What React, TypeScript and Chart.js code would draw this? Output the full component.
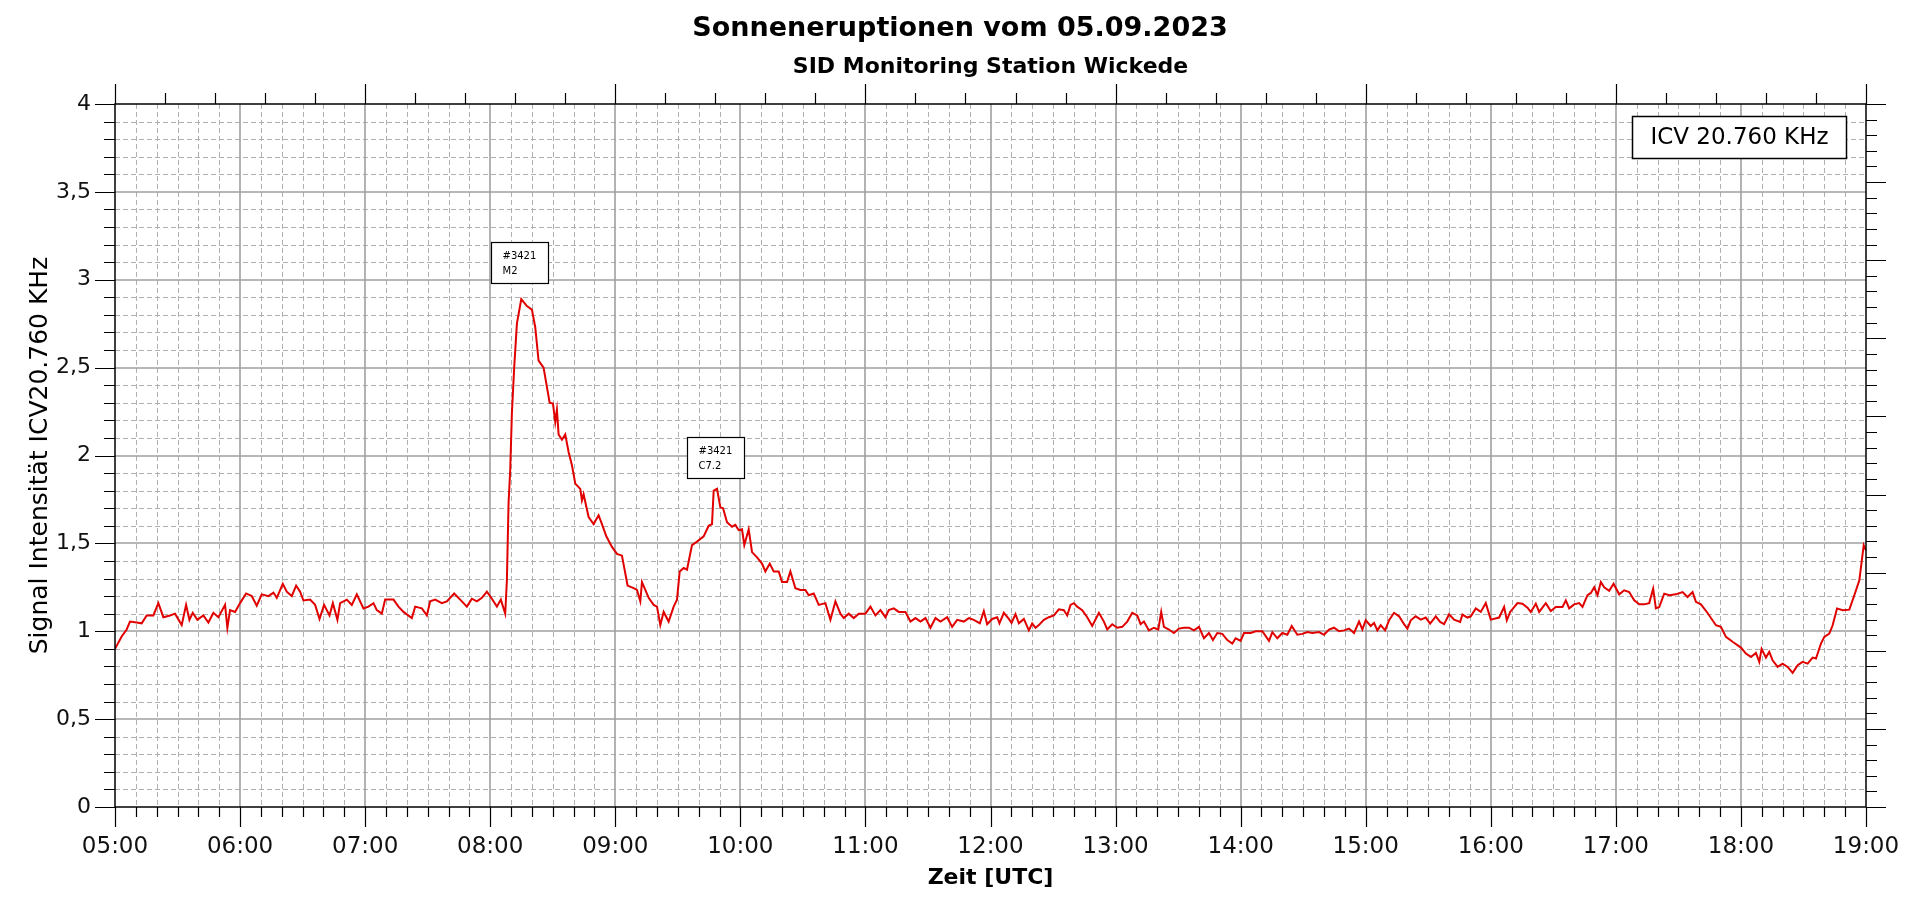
import { useEffect, useRef } from 'react';
import { Chart, registerables } from 'chart.js';

Chart.register(...registerables);

const FONT = "'DejaVu Sans', 'Noto Sans', sans-serif";

const TITLE = 'Sonneneruptionen vom 05.09.2023';
const SUBTITLE = 'SID Monitoring Station Wickede';
const X_TITLE = 'Zeit [UTC]';
const Y_TITLE = 'Signal Intensität ICV20.760 KHz';
const STATION_LABEL = 'ICV 20.760 KHz';

const HOUR_LABELS = [
  '05:00', '06:00', '07:00', '08:00', '09:00', '10:00', '11:00', '12:00',
  '13:00', '14:00', '15:00', '16:00', '17:00', '18:00', '19:00',
];

// [minutes since 05:00 UTC, signal]
const SEG_MORNING: [number, number][] = [
  [0, 0.9], [3.2, 0.97], [5.6, 1.01], [7.2, 1.055], [10.4, 1.05], [12.8, 1.045], [15.2, 1.09], [18.4, 1.09],
  [20.8, 1.16], [23.2, 1.08], [26.4, 1.09], [28.8, 1.1], [32, 1.035], [34.1, 1.15], [35.7, 1.065], [37.3, 1.105],
  [39.5, 1.065], [42.4, 1.09], [44.8, 1.05], [47.2, 1.105], [49.6, 1.08], [52.8, 1.15], [53.9, 1.02], [55.2, 1.12],
  [57.6, 1.11], [60, 1.16], [62.9, 1.215], [65.6, 1.2], [68, 1.145], [70.4, 1.21], [73.6, 1.2], [76, 1.22],
  [77.6, 1.19], [80.5, 1.27], [82.4, 1.225], [84.8, 1.2], [86.9, 1.26], [88.8, 1.225], [90.4, 1.175], [93.6, 1.18],
  [96, 1.15], [98.1, 1.07], [100.3, 1.15], [102.9, 1.09], [104.5, 1.16], [106.7, 1.065], [108, 1.16], [111.2, 1.18],
  [113.6, 1.15], [116, 1.21], [119.2, 1.13], [121.6, 1.14], [124, 1.16], [125.6, 1.12], [128, 1.1], [129.6, 1.18],
  [133.6, 1.18], [136, 1.14], [138.4, 1.11], [142.4, 1.075], [144, 1.14], [147.2, 1.13], [149.6, 1.09], [151.2, 1.17],
  [153.6, 1.18], [156.8, 1.16], [159.2, 1.17], [162.7, 1.215], [165.6, 1.18], [168.8, 1.14], [171.2, 1.185], [173.6, 1.17],
  [176, 1.19], [178.4, 1.225], [180.8, 1.185], [183.2, 1.14], [185.1, 1.18], [187.2, 1.1], [188, 1.29], [188.8, 1.73],
  [189.6, 1.92], [190.4, 2.24], [191.5, 2.5], [192.8, 2.75], [194.9, 2.89], [197.6, 2.85], [200, 2.83], [201.6, 2.73],
  [203.2, 2.54], [205.6, 2.5], [208.5, 2.3],
];

const SEG_DECAY: [number, number][] = [
  [210.1, 2.295], [211.2, 2.19], [212, 2.26], [212.8, 2.12], [214.4, 2.09], [216, 2.12], [217.6, 2.02], [219.2, 1.945],
  [220.8, 1.84], [223.2, 1.81], [224, 1.745], [224.8, 1.78], [227.2, 1.65], [229.6, 1.61], [232, 1.66], [233.6, 1.61],
  [235.7, 1.54], [238.4, 1.48], [240.8, 1.44], [243.2, 1.43], [245.9, 1.26], [248.8, 1.245], [250.4, 1.235], [252, 1.17],
  [252.8, 1.28], [254.4, 1.235], [256, 1.19], [258.4, 1.15], [260, 1.14], [261.6, 1.035], [263.2, 1.11], [265.6, 1.055],
  [268, 1.14], [269.6, 1.18], [270.9, 1.34], [272.8, 1.36], [274.4, 1.35], [276.8, 1.49], [279.2, 1.51], [282.4, 1.54],
  [284.8, 1.6], [286.4, 1.61], [287.2, 1.8], [288.8, 1.81], [290.4, 1.705], [291.7, 1.7], [293.6, 1.62], [296, 1.595],
  [297.6, 1.605], [299.2, 1.575], [300.8, 1.58], [301.9, 1.49], [304, 1.58], [305.6, 1.45], [308, 1.42], [310.4, 1.385],
  [312, 1.34], [314.1, 1.385], [316, 1.34], [318.4, 1.34], [320, 1.28], [322.4, 1.28], [324, 1.34], [326.4, 1.245],
  [328.8, 1.235], [331.2, 1.235], [332.8, 1.205], [335.2, 1.215], [337.6, 1.15], [340.8, 1.16], [343.2, 1.065], [345.6, 1.17],
  [348, 1.1], [349.6, 1.075], [352, 1.1], [354.4, 1.075], [356.8, 1.1], [360, 1.1], [362.4, 1.14], [364.8, 1.09],
  [367.2, 1.12], [369.6, 1.08], [371.2, 1.12], [373.6, 1.13], [376, 1.11], [379.2, 1.11], [381.6, 1.055], [384, 1.075],
  [386.4, 1.055], [388.8, 1.075], [391.2, 1.02], [393.6, 1.075], [396, 1.055], [399.2, 1.08], [401.6, 1.025], [404, 1.065],
  [407.2, 1.055], [409.6, 1.075], [412, 1.065], [414.9, 1.045],
];

const SEG_MIDDAY: [number, number][] = [
  [416.8, 1.115], [418.4, 1.04], [420.8, 1.07], [423.2, 1.08], [424.3, 1.045], [426.4, 1.105], [428.8, 1.07], [430.1, 1.047],
  [432, 1.097], [433.6, 1.045], [436, 1.07], [438.4, 1.005], [440, 1.045], [441.6, 1.02], [443.2, 1.035], [445.6, 1.065],
  [448, 1.08], [450.4, 1.09], [452.8, 1.125], [455.2, 1.12], [456.8, 1.09], [458.4, 1.15], [460, 1.16], [461.6, 1.14],
  [464, 1.12], [466.4, 1.08], [468.8, 1.03], [472, 1.105], [474.4, 1.055], [476, 1.01], [478.4, 1.04], [480.8, 1.02],
  [483.2, 1.025], [485.6, 1.055], [488, 1.105], [490.4, 1.09], [492, 1.04], [493.6, 1.055], [496, 1.005], [498.4, 1.02],
  [500.5, 1.01], [501.9, 1.11], [503.2, 1.025], [505.6, 1.01], [508, 0.99], [510.4, 1.015], [512.8, 1.02], [515.2, 1.02],
  [517.6, 1.005], [520, 1.025], [522.4, 0.96], [524.8, 0.99], [526.7, 0.95], [528.8, 0.99], [531.2, 0.985], [533.6, 0.95],
  [536, 0.93], [537.6, 0.96], [540, 0.945], [541.6, 0.99], [544.8, 0.99], [547.2, 1.0], [550.4, 1.0], [553.6, 0.945],
  [555.2, 0.995], [557.6, 0.96], [560, 0.99], [562.4, 0.98], [564.5, 1.03], [567.2, 0.98], [569.6, 0.985], [572, 0.995],
  [574.4, 0.99], [577.6, 0.995], [580, 0.98], [582.4, 1.01], [584.8, 1.02], [587.2, 1.0], [589.6, 1.005], [592, 1.015],
  [594.4, 0.99], [596.8, 1.055], [598.4, 1.01], [600, 1.0625], [602.4, 1.03], [604, 1.047], [605.6, 1.005], [607.2, 1.035],
  [609.3, 1.005], [611.2, 1.0625], [613.6, 1.105], [616, 1.085], [618.4, 1.04], [620, 1.015], [621.6, 1.0625], [624, 1.085],
  [626.4, 1.066], [628.8, 1.078],
];

const SEG_EVENING: [number, number][] = [
  [630.9, 1.044], [633.6, 1.085], [635.7, 1.053], [637.6, 1.04], [640, 1.097], [642.4, 1.066], [645.3, 1.053], [646.4, 1.095],
  [648.8, 1.078], [650.4, 1.085], [652.8, 1.13], [655.2, 1.11], [657.6, 1.16], [660, 1.066], [664, 1.078], [666.4, 1.138],
  [667.7, 1.0625], [669.3, 1.11], [672.8, 1.16], [675.2, 1.157], [677.6, 1.134], [679.2, 1.11], [681.6, 1.157], [683.2, 1.11],
  [686.4, 1.16], [688.8, 1.115], [691.2, 1.138], [694.4, 1.138], [696, 1.176], [697.6, 1.13], [700, 1.153], [702.4, 1.16],
  [704, 1.138], [706.4, 1.205], [708, 1.218], [709.6, 1.25], [711.2, 1.205], [712.8, 1.28], [714.4, 1.25], [716.8, 1.23],
  [718.9, 1.27], [721.6, 1.21], [724, 1.233], [726.4, 1.223], [728.8, 1.176], [731.2, 1.153], [733.6, 1.153], [736, 1.16],
  [737.9, 1.242], [739.2, 1.13], [740.8, 1.138], [743.2, 1.214], [745.6, 1.205], [748.8, 1.21], [752, 1.223], [754.4, 1.195],
  [756.8, 1.223], [758.4, 1.167], [760.8, 1.153], [764, 1.104], [768, 1.034], [770.4, 1.025], [772.8, 0.968], [776, 0.94],
  [780, 0.907], [782.4, 0.873], [784.8, 0.854], [787.2, 0.877], [788.8, 0.826], [789.9, 0.9], [792, 0.85], [793.6, 0.883],
  [795.2, 0.835], [797.6, 0.797], [800, 0.816], [802.4, 0.797], [804.8, 0.763], [807.2, 0.807], [809.6, 0.826], [812, 0.816],
  [814.4, 0.85], [816, 0.845], [818.4, 0.93], [820, 0.968], [822.4, 0.987], [824, 1.034], [826.1, 1.13], [828.8, 1.12],
  [832, 1.123], [834.4, 1.205], [836.8, 1.29], [838.9, 1.49], [840, 1.46],
];

// flare annotations: box centre time (min since 05:00), box top (signal units)
const FLARE_TIME = [194.1, 288.3];
const FLARE_TOP = [3.215, 2.105];
const FLARE_REGION = ['#3421', '#3421'];
const FLARE_CLASS = ['M2', 'C7.2'];

const SERIES = [...SEG_MORNING, ...SEG_DECAY, ...SEG_MIDDAY, ...SEG_EVENING];

const sidPlugin = {
  id: 'sidFrame',
  beforeDatasetsDraw(chart: any) {
    const { ctx, chartArea: a } = chart;
    const xs = chart.scales.x;
    const ys = chart.scales.y;
    ctx.save();
    // minor dashed grid
    ctx.lineWidth = 1;
    ctx.strokeStyle = '#b0b0b0';
    ctx.setLineDash([5, 3]);
    ctx.beginPath();
    for (let m = 10; m < 840; m += 10) {
      if (m % 60 === 0) continue;
      const px = Math.round(xs.getPixelForValue(m)) + 0.5;
      ctx.moveTo(px, a.top);
      ctx.lineTo(px, a.bottom);
    }
    for (let i = 1; i < 40; i++) {
      if (i % 5 === 0) continue;
      const py = Math.round(ys.getPixelForValue(i / 10)) + 0.5;
      ctx.moveTo(a.left, py);
      ctx.lineTo(a.right, py);
    }
    ctx.stroke();
    // major solid grid
    ctx.setLineDash([]);
    ctx.strokeStyle = '#a0a0a0';
    ctx.lineWidth = 1.6;
    ctx.beginPath();
    for (let m = 60; m < 840; m += 60) {
      const px = Math.round(xs.getPixelForValue(m));
      ctx.moveTo(px, a.top);
      ctx.lineTo(px, a.bottom);
    }
    for (let i = 1; i < 8; i++) {
      const py = Math.round(ys.getPixelForValue(i * 0.5));
      ctx.moveTo(a.left, py);
      ctx.lineTo(a.right, py);
    }
    ctx.stroke();
    ctx.restore();
  },
  afterDatasetsDraw(chart: any) {
    const { ctx, chartArea: a } = chart;
    const xs = chart.scales.x;
    const ys = chart.scales.y;
    const x2 = chart.scales.x2;
    const y2 = chart.scales.y2;
    ctx.save();
    ctx.setLineDash([]);
    ctx.strokeStyle = '#000';
    ctx.lineWidth = 1.2;
    ctx.beginPath();
    // bottom ticks
    for (let m = 0; m <= 840; m += 10) {
      const px = Math.round(xs.getPixelForValue(m)) + 0.5;
      const len = m % 60 === 0 ? 20 : 10;
      ctx.moveTo(px, a.bottom);
      ctx.lineTo(px, a.bottom + len);
    }
    // top ticks
    for (let m = 0; m <= 840; m += 24) {
      const px = Math.round(x2.getPixelForValue(m)) + 0.5;
      const len = m % 120 === 0 ? 20 : 11;
      ctx.moveTo(px, a.top);
      ctx.lineTo(px, a.top - len);
    }
    // left ticks
    for (let i = 0; i <= 40; i++) {
      const py = Math.round(ys.getPixelForValue(i / 10)) + 0.5;
      const len = i % 5 === 0 ? 20 : 11;
      ctx.moveTo(a.left, py);
      ctx.lineTo(a.left - len, py);
    }
    // right ticks
    for (let i = 0; i <= 45; i++) {
      const py = Math.round(y2.getPixelForValue(i / 5)) + 0.5;
      const len = i % 5 === 0 ? 20 : 11;
      ctx.moveTo(a.right, py);
      ctx.lineTo(a.right + len, py);
    }
    ctx.stroke();
    // frame
    ctx.lineWidth = 1.5;
    ctx.strokeRect(a.left, a.top, a.right - a.left, a.bottom - a.top);

    // flare boxes
    for (let i = 0; i < FLARE_TIME.length; i++) {
      const w = 57;
      const h = 41;
      const cx = xs.getPixelForValue(FLARE_TIME[i]);
      const top = Math.round(ys.getPixelForValue(FLARE_TOP[i])) + 0.5;
      const left = Math.round(cx - w / 2) + 0.5;
      ctx.fillStyle = '#fff';
      ctx.fillRect(left, top, w, h);
      ctx.lineWidth = 1.2;
      ctx.strokeStyle = '#000';
      ctx.strokeRect(left, top, w, h);
      ctx.fillStyle = '#000';
      ctx.font = `10px ${FONT}`;
      ctx.textAlign = 'left';
      ctx.textBaseline = 'middle';
      ctx.fillText(FLARE_REGION[i], left + 11, top + 14);
      ctx.fillText(FLARE_CLASS[i], left + 11, top + 29);
    }

    // station label box
    ctx.font = `23px ${FONT}`;
    const tw = ctx.measureText(STATION_LABEL).width;
    const bw = Math.round(tw + 36);
    const bh = 42;
    const bx = Math.round(a.right - 20 - bw) + 0.5;
    const by = Math.round(a.top + 12) + 0.5;
    ctx.fillStyle = '#fff';
    ctx.fillRect(bx, by, bw, bh);
    ctx.lineWidth = 1.5;
    ctx.strokeStyle = '#000';
    ctx.strokeRect(bx, by, bw, bh);
    ctx.fillStyle = '#000';
    ctx.textAlign = 'center';
    ctx.textBaseline = 'middle';
    ctx.fillText(STATION_LABEL, bx + bw / 2, by + bh / 2 + 1);
    ctx.restore();
  },
};

export default function App() {
  const canvasRef = useRef<HTMLCanvasElement | null>(null);

  useEffect(() => {
    const canvas = canvasRef.current;
    if (!canvas) return;
    const chart = new Chart(canvas, {
      type: 'line',
      data: {
        datasets: [
          {
            label: STATION_LABEL,
            data: SERIES.map(([t, v]) => ({ x: t, y: v })),
            borderColor: '#e00000',
            backgroundColor: '#e00000',
            borderWidth: 2,
            pointRadius: 0,
            tension: 0,
            fill: false,
            xAxisID: 'x',
            yAxisID: 'y',
          },
        ],
      },
      options: {
        animation: false,
        responsive: true,
        maintainAspectRatio: false,
        layout: { padding: 0 },
        plugins: {
          legend: { display: false },
          tooltip: { enabled: false },
          title: {
            display: true,
            text: TITLE,
            color: '#000',
            font: { family: FONT, size: 27, weight: 'bold', lineHeight: 1.2 },
            padding: { top: 13, bottom: 0 },
          },
          subtitle: {
            display: true,
            text: SUBTITLE,
            color: '#000',
            fullSize: false,
            font: { family: FONT, size: 22, weight: 'bold', lineHeight: 1.2 },
            padding: { top: 8.4, bottom: 0 },
          },
        },
        scales: {
          x: {
            type: 'linear',
            position: 'bottom',
            min: 0,
            max: 840,
            grid: { display: false, drawTicks: false },
            border: { display: false },
            ticks: {
              stepSize: 60,
              autoSkip: false,
              maxRotation: 0,
              padding: 26,
              color: '#111',
              font: { family: FONT, size: 23 },
              callback: (v: any) => HOUR_LABELS[Math.round(Number(v) / 60)] ?? '',
            },
            title: {
              display: true,
              text: X_TITLE,
              color: '#000',
              font: { family: FONT, size: 22, weight: 'bold', lineHeight: 1.2 },
              padding: { top: 0, bottom: 12.8 },
            },
            afterFit: (s: any) => {
              s.height = 97;
              s.paddingLeft = 0;
              s.paddingRight = 0;
            },
          },
          x2: {
            type: 'linear',
            position: 'top',
            min: 0,
            max: 840,
            grid: { display: false, drawTicks: false },
            border: { display: false },
            ticks: { display: false },
            afterFit: (s: any) => {
              s.height = 23.8;
              s.paddingLeft = 0;
              s.paddingRight = 0;
            },
          },
          y: {
            type: 'linear',
            position: 'left',
            min: 0,
            max: 4,
            grid: { display: false, drawTicks: false },
            border: { display: false },
            ticks: {
              stepSize: 0.5,
              padding: 24,
              color: '#111',
              font: { family: FONT, size: 22 },
              callback: (v: any) => String(v).replace('.', ','),
            },
            title: {
              display: true,
              text: Y_TITLE,
              color: '#000',
              font: { family: FONT, size: 25, lineHeight: 1.2 },
              padding: { top: 25, bottom: 0 },
            },
            afterFit: (s: any) => {
              s.width = 115;
              s.paddingTop = 0;
              s.paddingBottom = 0;
            },
          },
          y2: {
            type: 'linear',
            position: 'right',
            min: 0,
            max: 9,
            grid: { display: false, drawTicks: false },
            border: { display: false },
            ticks: { display: false },
            afterFit: (s: any) => {
              s.width = 54;
              s.paddingTop = 0;
              s.paddingBottom = 0;
            },
          },
        },
      } as any,
      plugins: [sidPlugin],
    });
    return () => {
      chart.destroy();
    };
  }, []);

  return (
    <div
      style={{
        position: 'fixed',
        left: 0,
        top: 0,
        width: 1920,
        height: 904,
        background: '#fff',
      }}
    >
      <canvas ref={canvasRef} />
    </div>
  );
}
